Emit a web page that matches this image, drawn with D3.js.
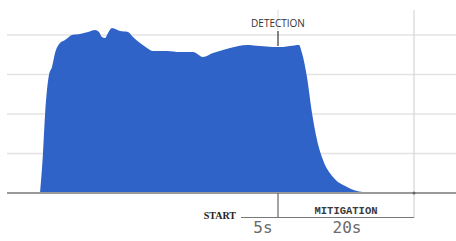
<!DOCTYPE html>
<html>
<head>
<meta charset="utf-8">
<script src="https://cdn.jsdelivr.net/npm/d3@7"></script>
<style>
  html, body { margin: 0; padding: 0; background: #fff; }
  svg { display: block; }
</style>
</head>
<body>
<svg id="chart" width="456" height="241"></svg>
<script>
// ---- data (time in seconds relative to attack start, load in % of nominal) ----
const times = [-30, -29.56, -29.26, -28.68, -28.24, -27.79, -27.06, -26.32, -25.29, -24.12,
  -22.94, -21.91, -21.32, -20.88, -20.44, -20.0, -19.41, -18.24, -17.06, -16.32,
  -15.29, -14.26, -13.38, -12.35, -11.32, -9.41, -7.5, -6.03, -4.56, -3.09,
  -2.06, 0.44, 2.35, 4.26, 5.74, 6.76, 8.09, 8.53, 9.26, 10.0,
  10.74, 11.62, 13.09, 15.15, 17.5, 20.0, 21.47];
const loads = [0, 25.3, 49.4, 74.7, 79.7, 88.6, 94.9, 96.8, 100, 100.6,
  101.9, 103.2, 101.9, 98.7, 98.1, 101.3, 104.4, 102.5, 101.9, 98.7,
  94.9, 91.8, 89.9, 89.9, 89.9, 89.2, 89.2, 86.1, 88.6, 90.5,
  91.8, 93.7, 93.0, 92.4, 92.4, 93.0, 93.7, 88.6, 73.4, 50.6,
  33.5, 20.9, 10.1, 3.8, 0.6, 0.2, 0];
const gridValues = [25, 50, 75, 100];
const startTime = 0, detectionTime = 5, mitigationEnd = 25;
const phaseLabels = ["5s", "20s"];

const svg = d3.select("#chart");
const x = d3.scaleLinear().domain([-30, 25]).range([40, 414]);
const y = d3.scaleLinear().domain([0, 100]).range([193, 35]);
const data = times.map((t, i) => ({ t, v: loads[i] }));

// horizontal gridlines
svg.append("g").selectAll("line").data(gridValues).join("line")
  .attr("x1", 7).attr("x2", 456)
  .attr("y1", d => y(d)).attr("y2", d => y(d))
  .attr("stroke", "#e3e3e3").attr("stroke-width", 1.5);

// vertical faint guide lines at top
svg.append("line").attr("x1", x(mitigationEnd)).attr("x2", x(mitigationEnd))
  .attr("y1", 10).attr("y2", 218).attr("stroke", "#d6d6d6").attr("stroke-width", 1.2);
svg.append("line").attr("x1", x(detectionTime)).attr("x2", x(detectionTime))
  .attr("y1", 10).attr("y2", 30).attr("stroke", "#e3e3e3").attr("stroke-width", 1.2);

// area
const area = d3.area().x(d => x(d.t)).y0(y(0)).y1(d => y(d.v)).curve(d3.curveMonotoneX);
svg.append("path").datum(data).attr("d", area).attr("fill", "#3063c8");

// baseline
svg.append("line").attr("x1", 7).attr("x2", 456).attr("y1", y(0)).attr("y2", y(0))
  .attr("stroke", "#9a9a9a").attr("stroke-width", 2);
svg.append("circle").attr("cx", x(mitigationEnd)).attr("cy", y(0)).attr("r", 1.5).attr("fill", "#666");

// detection marker
svg.append("line").attr("x1", x(detectionTime)).attr("x2", x(detectionTime))
  .attr("y1", 31).attr("y2", 46).attr("stroke", "#444").attr("stroke-width", 1.3);
svg.append("text").attr("x", x(detectionTime)).attr("y", 27)
  .attr("text-anchor", "middle").attr("font-family", "Open Sans, sans-serif")
  .attr("font-size", 10).attr("fill", "#333").text("DETECTION");

// bracket lines below axis
const by = 217.5;
svg.append("line").attr("x1", x(detectionTime)).attr("x2", x(detectionTime))
  .attr("y1", y(0)).attr("y2", by).attr("stroke", "#666").attr("stroke-width", 1.2);
svg.append("line").attr("x1", 241).attr("x2", x(mitigationEnd))
  .attr("y1", by).attr("y2", by).attr("stroke", "#777").attr("stroke-width", 1);

// labels
svg.append("text").attr("x", 236).attr("y", 219).attr("text-anchor", "end")
  .attr("font-family", "Liberation Serif, serif").attr("font-weight", "bold")
  .attr("font-size", 10).attr("fill", "#222").text("START");
svg.append("text").attr("x", (x(detectionTime) + x(mitigationEnd)) / 2).attr("y", 214)
  .attr("text-anchor", "middle").attr("font-family", "Liberation Mono, monospace")
  .attr("font-weight", "bold").attr("font-size", 10.5).attr("fill", "#3a3a3a").text("MITIGATION");
svg.append("text").attr("x", 263).attr("y", 233).attr("text-anchor", "middle")
  .attr("font-family", "DejaVu Sans Mono, monospace")
  .attr("font-size", 16).attr("fill", "#6a6a6a").text(phaseLabels[0]);
svg.append("text").attr("x", 347).attr("y", 233).attr("text-anchor", "middle")
  .attr("font-family", "DejaVu Sans Mono, monospace")
  .attr("font-size", 16).attr("fill", "#6a6a6a").text(phaseLabels[1]);
</script>
</body>
</html>
